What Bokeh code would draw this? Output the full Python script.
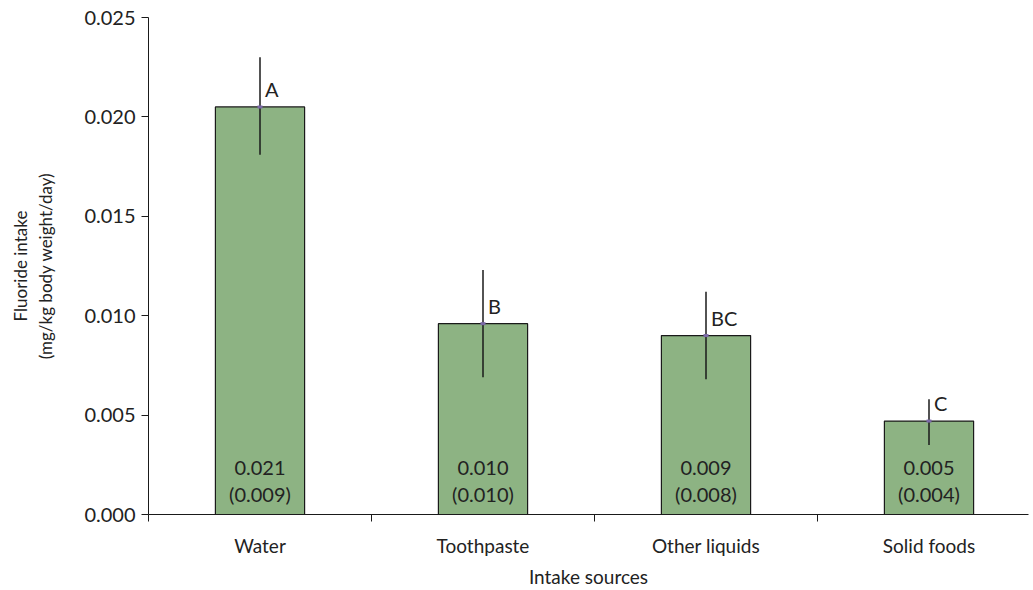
from bokeh.plotting import figure
from bokeh.models import Range1d, FixedTicker, ColumnDataSource, NumeralTickFormatter
from bokeh.core.properties import value
from bokeh.embed import file_html
from bokeh.resources import INLINE

categories = ["Water", "Toothpaste", "Other liquids", "Solid foods"]
means = [0.0205, 0.0096, 0.0090, 0.0047]
err_low = [0.0181, 0.0069, 0.0068, 0.0035]
err_high = [0.0230, 0.0123, 0.0112, 0.0058]
letters = ["A", "B", "BC", "C"]
mean_labels = ["0.021", "0.010", "0.009", "0.005"]
sd_labels = ["(0.009)", "(0.010)", "(0.008)", "(0.004)"]
y_ticks = [0.0, 0.005, 0.010, 0.015, 0.020, 0.025]

FONT = "Lato"
TXT = "#222222"

xs = [i + 0.5 for i in range(len(categories))]
src = ColumnDataSource(dict(x=xs, cat=categories, mean=means, lo=err_low, hi=err_high,
                            letter=letters, ml=mean_labels, sl=sd_labels,
                            zero=[0.0] * len(categories)))

p = figure(width=1033, height=590, output_backend="svg", toolbar_location=None,
           x_range=Range1d(0, 880 / 223), y_range=Range1d(0, 0.025),
           min_border_left=148, min_border_top=17, min_border_right=5, min_border_bottom=60)
p.outline_line_color = None
p.xgrid.grid_line_color = None
p.ygrid.grid_line_color = None
p.background_fill_color = "white"
p.border_fill_color = "white"

p.vbar(x="x", top="mean", bottom=0, width=0.4, source=src,
       fill_color="#8db383", line_color="#1a1a1a", line_width=1.2)
p.segment(x0="x", y0="lo", x1="x", y1="hi", source=src, line_color="#1a1a1a", line_width=1.5)
p.rect(x="x", y="mean", width=5, height=3, width_units="screen", height_units="screen",
       source=src, fill_color="#7a68a6", line_color=None)
p.text(x="x", y="mean", text="letter", source=src, x_offset=5, y_offset=-6,
       text_align="left", text_baseline="bottom", text_font=value(FONT),
       text_font_size="20px", text_color=TXT)
p.text(x="x", y="zero", text="ml", source=src, y_offset=-47,
       text_align="center", text_baseline="middle", text_font=value(FONT),
       text_font_size="20px", text_color=TXT)
p.text(x="x", y="zero", text="sl", source=src, y_offset=-21,
       text_align="center", text_baseline="middle", text_font=value(FONT),
       text_font_size="20px", text_color=TXT)

# x axis
xa = p.xaxis[0]
xa.ticker = FixedTicker(ticks=xs, minor_ticks=list(range(len(categories))))
xa.major_label_overrides = {x: c for x, c in zip(xs, categories)}
xa.major_tick_out = 0
xa.major_tick_in = 0
xa.minor_tick_out = 7
xa.minor_tick_in = 0
xa.minor_tick_line_color = "#1a1a1a"
xa.major_label_standoff = 12
xa.axis_label = "Intake sources"
xa.axis_label_standoff = 5
xa.axis_label_text_font_style = "normal"

# y axis
ya = p.yaxis[0]
ya.ticker = FixedTicker(ticks=y_ticks, minor_ticks=[])
ya.formatter = NumeralTickFormatter(format="0.000")
ya.major_tick_out = 7
ya.major_tick_in = 0
ya.major_label_standoff = 6
ya.axis_label = "Fluoride intake\n(mg/kg body weight/day)"
ya.axis_label_standoff = 25
ya.axis_label_text_font_style = "normal"

for ax in (xa, ya):
    ax.axis_line_color = "#1a1a1a"
    ax.major_tick_line_color = "#1a1a1a"
    ax.major_label_text_font = FONT
    ax.axis_label_text_font = FONT
    ax.major_label_text_color = TXT
    ax.axis_label_text_color = TXT
xa.major_label_text_font_size = "19px"
xa.axis_label_text_font_size = "19px"
ya.major_label_text_font_size = "20px"
ya.axis_label_text_font_size = "17px"

open("out.html", "w").write(file_html(p, INLINE))
